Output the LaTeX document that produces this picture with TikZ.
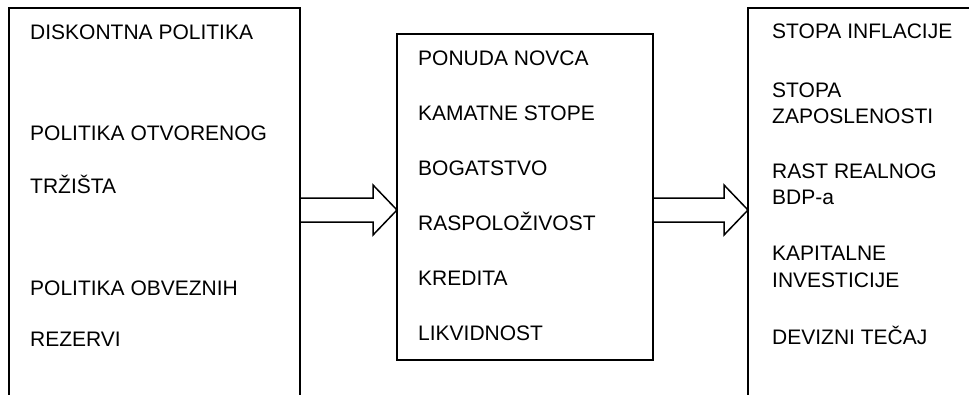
\documentclass[tikz,border=0pt]{standalone}
\usepackage{fontspec}
\setmainfont{Liberation Sans}
\usetikzlibrary{calc}
\begin{document}
\begin{tikzpicture}[x=1pt,y=1pt,
  box/.style={draw,line width=1.5pt,inner sep=0pt,outer sep=0pt,anchor=north west},
  lbl/.style={anchor=base west,inner sep=0pt,font=\fontsize{21}{25}\selectfont},
  blk/.style={draw,line width=1.5pt,line join=miter}]
\clip (0,0) rectangle (969,-394);
% boxes
\node[box,minimum width=291pt,minimum height=402pt] (L) at (9,-8) {};
\node[box,minimum width=256pt,minimum height=326pt] (M) at (397,-34) {};
\node[box,minimum width=250pt,minimum height=402pt] (R) at (748,-8) {};
% left texts
\node[lbl] (l1) at (30,-39) {DISKONTNA POLITIKA};
\node[lbl] (l2) at (30,-140) {POLITIKA OTVORENOG};
\node[lbl] (l3) at (30,-193) {TRŽIŠTA};
\node[lbl] (l4) at (30,-295) {POLITIKA OBVEZNIH};
\node[lbl] (l5) at (30,-346) {REZERVI};
% middle texts
\node[lbl] (m1) at (418,-65) {PONUDA NOVCA};
\node[lbl] (m2) at (418,-120) {KAMATNE STOPE};
\node[lbl] (m3) at (418,-175) {BOGATSTVO};
\node[lbl] (m4) at (418,-230) {RASPOLOŽIVOST};
\node[lbl] (m5) at (418,-285) {KREDITA};
\node[lbl] (m6) at (418,-340) {LIKVIDNOST};
% right texts
\node[lbl] (r1) at (772,-38) {STOPA INFLACIJE};
\node[lbl] (r2) at (772,-97) {STOPA};
\node[lbl] (r3) at (772,-123) {ZAPOSLENOSTI};
\node[lbl] (r4) at (772,-178) {RAST REALNOG};
\node[lbl] (r5) at (772,-204) {BDP-a};
\node[lbl] (r6) at (772,-260) {KAPITALNE};
\node[lbl] (r7) at (772,-287) {INVESTICIJE};
\node[lbl] (r8) at (772,-344) {DEVIZNI TEČAJ};
% arrows
\coordinate (ay) at (0,-210);
\coordinate (a1s) at (L.east |- ay);
\coordinate (a1e) at (M.west |- ay);
\coordinate (a2s) at (M.east |- ay);
\coordinate (a2e) at (R.west |- ay);
\draw[blk] ($(a1s)+(0,12)$) -- ($(a1e)+(-24,12)$) -- ($(a1e)+(-24,25)$) -- (a1e)
  -- ($(a1e)+(-24,-25)$) -- ($(a1e)+(-24,-12)$) -- ($(a1s)+(0,-12)$);
\draw[blk] ($(a2s)+(0,12)$) -- ($(a2e)+(-24,12)$) -- ($(a2e)+(-24,25)$) -- (a2e)
  -- ($(a2e)+(-24,-25)$) -- ($(a2e)+(-24,-12)$) -- ($(a2s)+(0,-12)$);
\end{tikzpicture}
\end{document}
